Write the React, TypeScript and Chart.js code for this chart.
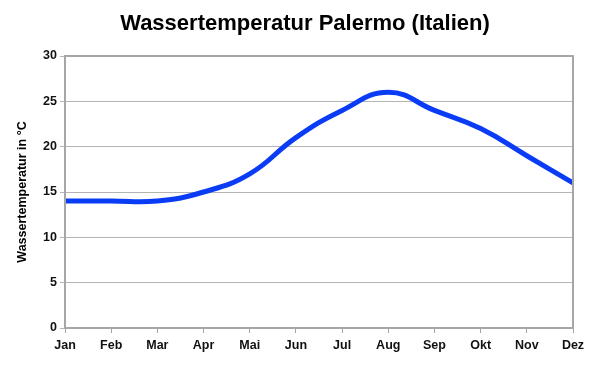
import React, { useEffect, useRef } from "react";
import { Chart, registerables } from "chart.js";

Chart.register(...registerables);

const TITLE = "Wassertemperatur Palermo (Italien)";
const Y_TITLE = "Wassertemperatur in °C";
const months = ["Jan", "Feb", "Mar", "Apr", "Mai", "Jun", "Jul", "Aug", "Sep", "Okt", "Nov", "Dez"];
const temps = [14, 14, 14, 15, 17, 21, 24, 26, 24, 22, 19, 16];

const FONT = "'Liberation Sans', Arial, sans-serif";

const framePlugin = {
  id: "frameAndTitle",
  afterDraw(chart: any) {
    const { ctx, chartArea } = chart;
    ctx.save();
    ctx.strokeStyle = "#a6a6a6";
    ctx.lineWidth = 2;
    ctx.strokeRect(chartArea.left, chartArea.top, chartArea.right - chartArea.left, chartArea.bottom - chartArea.top);
    ctx.fillStyle = "#000";
    ctx.font = `bold 22px ${FONT}`;
    ctx.textAlign = "center";
    ctx.textBaseline = "middle";
    ctx.fillText(TITLE, 305, 24);
    ctx.restore();
  },
};

export default function App() {
  const ref = useRef<HTMLCanvasElement>(null);
  useEffect(() => {
    const chart = new Chart(ref.current!, {
      type: "line",
      data: {
        labels: months,
        datasets: [
          {
            data: temps,
            borderColor: "#0a3cf5",
            borderWidth: 5,
            pointRadius: 0,
            tension: 0.45,
            fill: false,
            clip: false as any,
          },
        ],
      },
      options: {
        animation: false,
        responsive: false,
        maintainAspectRatio: false,
        layout: { padding: { top: 56, right: 21, left: 0, bottom: 0 } },
        plugins: {
          legend: { display: false },
          title: { display: false },
          tooltip: { enabled: false },
        },
        scales: {
          x: {
            offset: false,
            grid: { display: true, drawOnChartArea: false, drawTicks: true, tickLength: 5, color: "#a6a6a6", lineWidth: 1 },
            border: { display: true, color: "#a6a6a6", width: 2 },
            ticks: { color: "#111", font: { family: FONT, size: 12.5, weight: "bold" }, padding: 5, maxRotation: 0, autoSkip: false },
            afterFit(scale: any) {
              scale.height = 48;
            },
          },
          y: {
            min: 0,
            max: 30,
            ticks: { stepSize: 5, color: "#111", font: { family: FONT, size: 12.5, weight: "bold" }, padding: 3 },
            grid: { color: "#b4b4b4", lineWidth: 1, tickLength: 5, drawTicks: true },
            border: { display: true, color: "#a6a6a6", width: 2 },
            title: { display: true, text: Y_TITLE, color: "#000", font: { family: FONT, size: 12.5, weight: "bold" }, padding: { top: 15, bottom: 0 } },
            afterFit(scale: any) {
              scale.width = 65;
            },
          },
        },
      },
      plugins: [framePlugin],
    });
    return () => chart.destroy();
  }, []);
  return (
    <div style={{ position: "absolute", left: 0, top: 0, width: 594, height: 376, background: "#fff" }}>
      <canvas ref={ref} width={594} height={376} style={{ width: 594, height: 376 }} />
    </div>
  );
}
